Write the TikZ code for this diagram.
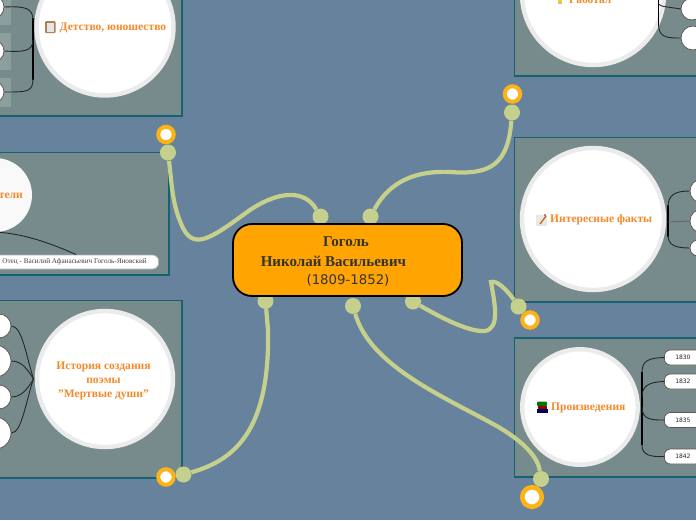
\documentclass[tikz,border=0pt]{standalone}
\usepackage{fontspec}
\setmainfont{Liberation Serif}
\newfontfamily\dvs{DejaVu Sans}
\tikzset{
 x=1pt,y=-1pt,
 panel/.style={draw=panelEdge,line width=1.4pt,fill=panelFill},
 bigc/.style={circle,draw=ringGrey,line width=4.4pt,fill=white,inner sep=0pt,minimum size=#1},
 title/.style={font=\bfseries\fontsize{11.55}{14}\selectfont,text=titleOr,align=center,inner sep=0pt},
 leaf/.style={draw=leafEdge,line width=.8pt,fill=white,inner sep=0pt},
 trunk/.style={draw=black!85,line width=.9pt},
 stem/.style={draw=black,line width=1.6pt},
 dot/.style={circle,fill=linkGreen,inner sep=0pt,minimum size=16pt},
 ring/.style={circle,draw=ringOr,fill=white,inner sep=0pt,line width=4pt,minimum size=#1},
 link/.style={draw=linkGreen,line width=4.2pt},
 yr/.style={rectangle,rounded corners=6pt,leaf,minimum width=37pt,minimum height=15pt,font=\dvs\fontsize{6}{7}\selectfont,text=black!85}
}
\definecolor{bgBlue}{HTML}{67829C}
\definecolor{panelFill}{HTML}{788B8C}
\definecolor{panelEdge}{HTML}{16636F}
\definecolor{ringGrey}{HTML}{EBEBEB}
\definecolor{titleOr}{HTML}{F58A2B}
\definecolor{leafEdge}{HTML}{5E5A50}
\definecolor{linkGreen}{HTML}{C5D08C}
\definecolor{ringOr}{HTML}{FDB316}
\definecolor{rootOr}{HTML}{FFA400}
\definecolor{lightBox}{HTML}{8B9F9C}
\begin{document}
\begin{tikzpicture}
\useasboundingbox (0,0) rectangle (696,520);
\clip (0,0) rectangle (696,520);
\fill[bgBlue] (0,0) rectangle (696,520);
% panels
\draw[panel] (-20,-20) rectangle (182,116);
\draw[panel] (-20,152.5) rectangle (169,275);
\draw[panel] (-20,300.5) rectangle (182,478);
\draw[panel] (514.5,-20) rectangle (720,76);
\draw[panel] (514.5,137.5) rectangle (720,302);
\draw[panel] (514.5,338) rectangle (720,477);
% panel 1: childhood
\fill[lightBox] (-5,0) rectangle (11,25);
\fill[lightBox] (-5,33) rectangle (11,70);
\fill[lightBox] (-5,78) rectangle (11,107);
\node[bigc=137pt] (c1) at (105,27) {};
\node[leaf,circle,minimum size=24pt] (a1) at (-8,7) {};
\node[leaf,circle,minimum size=22pt] (a2) at (-7,51) {};
\node[leaf,circle,minimum size=22pt] (a3) at (-7,92) {};
\draw[stem] (33,18) -- (33,80);
\draw[trunk] (a1.east) .. controls (25,6) and (33,8) .. (33,20);
\draw[trunk] (a2.east) .. controls (22,52) and (33,52) .. (33,40);
\draw[trunk] (a3.east) .. controls (28,92) and (33,92) .. (33,78);
\node[title,anchor=west] (t1txt) at (59.5,28) {Детство, юношество};
\fill[brown!75!gray,rounded corners=1pt] (45,21) rectangle (55.5,33);
\fill[white!80!gray] (46.5,23) rectangle (54,31.5);
% panel 2: parents
\node[circle,fill=white!95!gray,inner sep=0pt,minimum size=74pt] (c2) at (-5,195) {};
\node[title,anchor=east] (t2txt) at (23,196) {Родители};
\node[leaf,draw=gray!60,rounded corners=6pt,minimum width=168pt,minimum height=14pt,font=\fontsize{7.2}{8}\selectfont,text=black!75,anchor=east] (f) at (159,262) {Отец - Василий Афанасьевич Гоголь-Яновский};
\coordinate (f1) at (76,254.5);
\draw[trunk] (-10,232) .. controls (20,232) and (50,243) .. (f1);
% panel 3: dead souls
\node[bigc=136pt] (c3) at (105,379) {};
\coordinate (t3) at (33.5,379);
\node[leaf,circle,minimum size=24pt] (b1) at (-1,326) {};
\node[leaf,circle,minimum size=32pt] (b2) at (-5,361) {};
\node[leaf,circle,minimum size=24pt] (b3) at (-1,397) {};
\node[leaf,circle,minimum size=32pt] (b4) at (-5,433) {};
\draw[trunk] (b1.east) .. controls (22,326) and (26,355) .. (t3);
\draw[trunk] (b2.east) .. controls (22,361) and (28,370) .. (t3);
\draw[trunk] (b3.east) .. controls (22,397) and (28,388) .. (t3);
\draw[trunk] (b4.east) .. controls (22,433) and (26,400) .. (t3);
\node[title] (t3txt) at (103.5,380.5) {История создания\\поэмы\\"Мертвые души"};
% top right: worked
\node[bigc=142pt] (c4) at (593,-6) {};
\node[leaf,circle,minimum size=22pt] (d1) at (692,9) {};
\node[leaf,circle,minimum size=24pt] (d2) at (693,38) {};
\draw[stem] (658.5,-10) -- (658.5,25);
\draw[trunk] (658.5,25) .. controls (659,38) and (668,38) .. (d2.west);
\draw[trunk] (658.5,4) .. controls (660,7) and (670,7) .. (d1.west);
\node[title,anchor=west] (t4txt) at (569,-0.5) {Работал};
\fill[yellow!70!orange] (558,-4) rectangle (562,2);
\fill[gray!50] (558,2) rectangle (562,4);
% facts
\node[bigc=142pt] (c5) at (593,219) {};
\node[leaf,circle,minimum size=24pt] (e1) at (702,191) {};
\node[leaf,circle,minimum size=24pt] (e2) at (702,221) {};
\node[leaf,circle,minimum size=16pt] (e3) at (698,248) {};
\draw[stem] (668,205) -- (668,237);
\draw[trunk] (e1.west) .. controls (675,191) and (668,195) .. (668,207);
\draw[trunk] (668,235) .. controls (668,245) and (675,248) .. (e3.west);
\draw[trunk,draw=black!60] (668,222) -- (e2.west);
\node[title,anchor=west] (t5txt) at (550,220) {Интересные факты};
\fill[white!82!gray] (536,214.5) rectangle (547,226);
\draw[orange!80!black,line width=1.3pt] (540,224) -- (546,216);
\fill[red!70!black] (545,215) circle (.8pt);
% works
\node[bigc=115.5pt] (c6) at (580,407) {};
\coordinate (t6) at (642,407);
\node[yr,anchor=west] (y1) at (664,357.5) {1830};
\node[yr,anchor=west] (y2) at (664,381.5) {1832};
\node[yr,anchor=west] (y3) at (664,420) {1835};
\node[yr,anchor=west] (y4) at (664,456.5) {1842};
\draw[stem] (642,372) -- (642,445);
\draw[trunk] (y1.west) .. controls (650,358) and (642,360) .. (642,372);
\draw[trunk] (y2.west) .. controls (650,382) and (642,385) .. (642,397);
\draw[trunk] (y3.west) .. controls (652,420) and (642,420) .. (t6);
\draw[trunk] (y4.west) .. controls (650,457) and (642,455) .. (642,445);
\node[title,anchor=west] (t6txt) at (551,408) {Произведения};
\fill[green!45!black,rounded corners=1pt] (537,401.5) rectangle (547,406);
\fill[red!60!black] (538,406) rectangle (547,409);
\fill[blue!35!black] (537,409) rectangle (548,413);
% connector endpoints
\node[dot] (l1) at (320.5,216.5) {};
\node[dot] (l2) at (370.5,216.5) {};
\node[dot] (l3) at (413,301.5) {};
\node[dot] (l4) at (353,306) {};
\node[dot] (l5) at (265.5,301) {};
\node[dot] (r1) at (168,152.5) {};
\node[dot] (r2) at (512,112.5) {};
\node[dot] (r3) at (518.5,306.5) {};
\node[dot] (r4) at (541,479) {};
\node[dot] (r5) at (183.5,474.5) {};
\node[ring=15.5pt] (o1) at (166,134.5) {};
\node[ring=15.5pt] (o2) at (512.5,94) {};
\node[ring=15.5pt] (o3) at (530,320) {};
\node[ring=19.5pt,line width=4.6pt] (o4) at (532,497) {};
\node[ring=15.5pt] (o5) at (166,477) {};
\draw[link] (l1) .. controls (305,190) and (280,190) .. (250,210) .. controls (215,235) and (195,252) .. (183,228) .. controls (172,205) and (172,185) .. (r1);
\draw[link] (l2) .. controls (385,190) and (405,170) .. (450,172) .. controls (490,175) and (508,165) .. (r2);
\draw[link] (l3) .. controls (445,320) and (470,332) .. (485,331) .. controls (500,328) and (495,305) .. (491,282) .. controls (497,280) and (507,290) .. (r3);
\draw[link] (l4) .. controls (370,365) and (440,395) .. (495,425) .. controls (525,442) and (538,458) .. (r4);
\draw[link] (l5) -- (268,330) .. controls (270,430) and (235,460) .. (r5);
% root
\node[draw=black,line width=1.8pt,fill=rootOr,rounded corners=19pt,minimum width=229pt,minimum height=72pt,inner sep=0pt] (root) at (347.5,260) {};
\node[font=\bfseries\fontsize{15}{17}\selectfont,text=black!80] (g1) at (346,242) {Гоголь};
\node[font=\bfseries\fontsize{15}{17}\selectfont,text=black!80] (g2) at (333.5,261) {Николай Васильевич};
\node[font=\dvs\fontsize{13.3}{15}\selectfont,text=black!80] (g3) at (348,280) {(1809-1852)};
\end{tikzpicture}
\end{document}
